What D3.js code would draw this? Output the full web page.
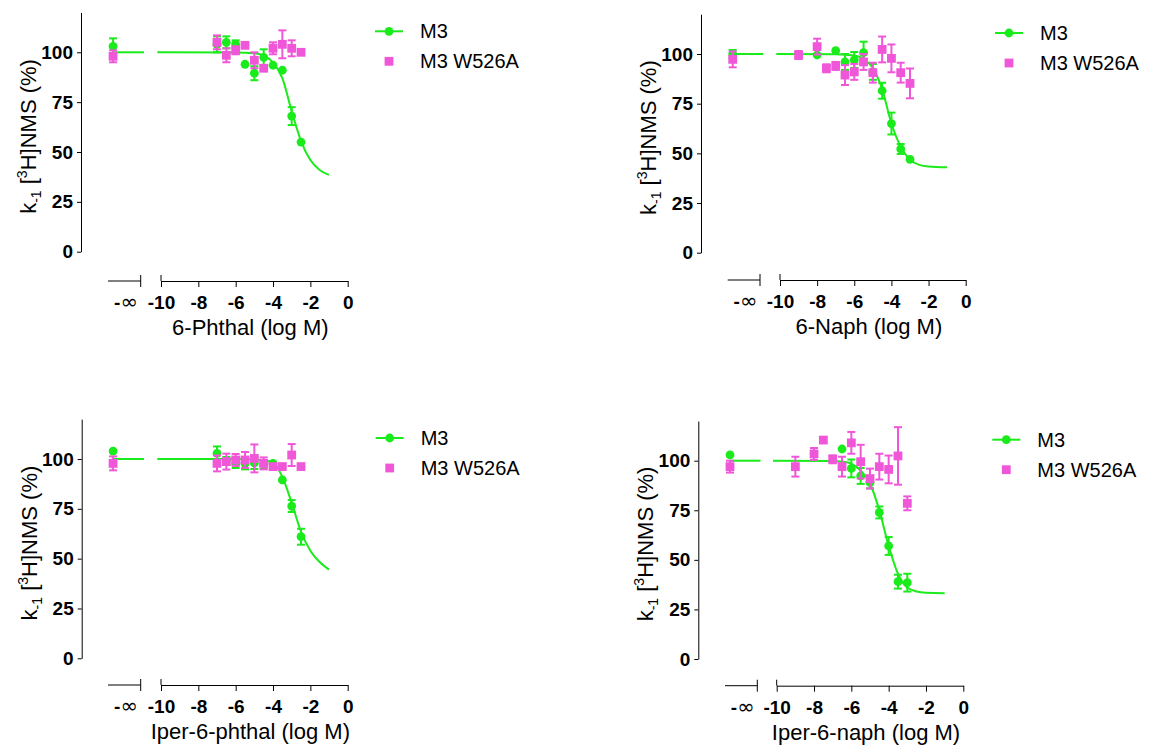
<!DOCTYPE html>
<html><head><meta charset="utf-8">
<script src="https://cdn.jsdelivr.net/npm/d3@7"></script>
<style>
body{margin:0;background:#fff}
svg{display:block}
text{font-family:"Liberation Sans",Arial,sans-serif;fill:#000}
</style>
</head><body>
<svg id="chart" width="1151" height="749"></svg>
<script>
// ---------------- DATA ----------------
const seriesNames = ["M3", "M3 W526A"];
const xTicks = [-10, -8, -6, -4, -2, 0];
const xTickLabels = ["-10", "-8", "-6", "-4", "-2", "0"];
const yTicks = [0, 25, 50, 75, 100];
const infLabel = ["-", "∞"];
const xTitles = ["6-Phthal (log M)", "6-Naph (log M)", "Iper-6-phthal (log M)", "Iper-6-naph (log M)"];

// Panel 1: 6-Phthal
const phthalM3X   = [-Infinity, -7, -6.5, -6, -5.5, -5, -4.5, -4, -3.5, -3, -2.5];
const phthalM3Y   = [103, 104, 105, 104, 94, 89.5, 97.5, 93.5, 91, 68, 55];
const phthalM3Err = [4, 4, 3, 2, 0, 3.5, 4, 0, 0, 4.5, 0];
const phthalWX    = [-Infinity, -7, -6.5, -6, -5.5, -5, -4.5, -4, -3.5, -3, -2.5];
const phthalWY    = [98, 105, 98.5, 101, 103.5, 96, 92, 102, 104, 102, 100];
const phthalWErr  = [3, 3.5, 3.5, 2, 0, 4, 0, 3, 7, 4, 0];
const phthalFitX  = [-10.2, -6, -5, -4.5, -4, -3.5, -3, -2.5, -2, -1.5, -1];
const phthalFitY  = [100, 99.9, 99.5, 98.3, 95, 87, 70.5, 55.5, 46, 41, 38.5];

// Panel 2: 6-Naph
const naphM3X   = [-Infinity, -8, -7, -6.5, -6, -5.5, -5, -4.5, -4, -3.5, -3];
const naphM3Y   = [100, 99.5, 101.7, 96, 97, 100.7, 91, 81.5, 65, 52.2, 47];
const naphM3Err = [2, 0, 0, 4, 4, 5.5, 4, 4, 5.5, 2.5, 0];
const naphWX    = [-Infinity, -9, -8, -7.5, -7, -6.5, -6, -5.5, -5, -4.5, -4, -3.5, -3];
const naphWY    = [97.3, 99.5, 103.7, 92.8, 94, 89.4, 91, 96, 90.6, 102.3, 97.8, 90.6, 85.2];
const naphWErr  = [4, 2, 4, 2, 2, 5, 4, 4, 5, 6.5, 7, 5, 7.5];
const naphFitX  = [-10.2, -7, -6, -5.5, -5, -4.5, -4, -3.5, -3, -2.5, -2, -1];
const naphFitY  = [100, 99.9, 99.2, 97.5, 93, 82.4, 65, 53.4, 46.8, 44.2, 43.4, 43];

// Panel 3: Iper-6-phthal
const iphthalM3X   = [-Infinity, -7, -6.5, -6, -5.5, -5, -4.5, -4, -3.5, -3, -2.5];
const iphthalM3Y   = [104, 102.8, 99, 97.5, 97.8, 98, 97, 97.8, 89.5, 76.4, 61];
const iphthalM3Err = [0, 3.5, 2, 2, 3, 3, 2, 0, 0, 3, 4];
const iphthalWX    = [-Infinity, -7, -6.5, -6, -5.5, -5, -4.5, -4, -3.5, -3, -2.5];
const iphthalWY    = [97.8, 97.8, 98.7, 99.5, 99.5, 100.3, 97.8, 96.2, 96.2, 102, 96.2];
const iphthalWErr  = [3.5, 4, 4, 3, 4, 7, 3, 0, 0, 5.5, 0];
const iphthalFitX  = [-10.2, -6, -5, -4.5, -4, -3.5, -3, -2.5, -2, -1.5, -1];
const iphthalFitY  = [100, 100, 99.8, 99.4, 98.3, 91, 78, 63.5, 54, 48.3, 44.5];

// Panel 4: Iper-6-naph
const inaphM3X   = [-Infinity, -6.5, -6, -5.5, -5, -4.5, -4, -3.5, -3];
const inaphM3Y   = [102.9, 105.9, 96.1, 92.3, 89, 73.9, 57, 39, 38.5];
const inaphM3Err = [0, 0, 4.5, 4, 3, 3, 4.5, 3.5, 4.5];
const inaphWX    = [-Infinity, -9, -8, -7.5, -7, -6.5, -6, -5.5, -5, -4.5, -4, -3.5, -3];
const inaphWY    = [97, 97, 103.4, 110.4, 100.7, 97, 109, 99.5, 91, 97, 95.6, 102.4, 78.5];
const inaphWErr  = [3, 5, 3, 0, 2, 5, 5.5, 8.5, 5, 6.5, 7, 14.5, 3.5];
const inaphFitX  = [-10.2, -7, -6.5, -6, -5.5, -5, -4.5, -4, -3.5, -3, -2.5, -2, -1];
const inaphFitY  = [100, 99.8, 99.5, 98.5, 95, 88.5, 75, 57, 43, 36, 34, 33.4, 33.2];

// ---------------- LAYOUT (pixels) ----------------
const layouts = [
  {ax: 81,    y0: 251.7, y100: 52.3,  xAxisY: 281,   xm10: 161,   x0: 347.7, segL: 108,   segR: 140.7},
  {ax: 701,   y0: 252.7, y100: 54,    xAxisY: 280,   xm10: 780,   x0: 965.7, segL: 727.7, segR: 760},
  {ax: 81.7,  y0: 658.3, y100: 459,   xAxisY: 685,   xm10: 161,   x0: 347.7, segL: 108,   segR: 140.7},
  {ax: 698.3, y0: 659,   y100: 460.7, xAxisY: 685.7, xm10: 776.7, x0: 963.3, segL: 725,   segR: 757.3}
];
const GREEN = "#1aeb1a", PINK = "#f057d8";
const FONT = '"Liberation Sans",Arial,sans-serif';

const panels = [
  {m3: [phthalM3X, phthalM3Y, phthalM3Err], w: [phthalWX, phthalWY, phthalWErr], fit: [phthalFitX, phthalFitY]},
  {m3: [naphM3X, naphM3Y, naphM3Err], w: [naphWX, naphWY, naphWErr], fit: [naphFitX, naphFitY]},
  {m3: [iphthalM3X, iphthalM3Y, iphthalM3Err], w: [iphthalWX, iphthalWY, iphthalWErr], fit: [iphthalFitX, iphthalFitY]},
  {m3: [inaphM3X, inaphM3Y, inaphM3Err], w: [inaphWX, inaphWY, inaphWErr], fit: [inaphFitX, inaphFitY]}
];

const svg = d3.select("#chart");

panels.forEach((p, i) => {
  const L = layouts[i];
  const g = svg.append("g");
  const yPx = (L.y0 - L.y100) / 100;
  const y = d3.scaleLinear().domain([0, 120]).range([L.y0, L.y0 - 120 * yPx]);
  const x = d3.scaleLinear().domain([-10, 0]).range([L.xm10, L.x0]);
  const xs = d3.scaleLinear().domain([0, 1]).range([L.segL, L.segR]);
  const infPos = 0.155;
  const px = v => (v === -Infinity ? xs(infPos) : x(v));

  // Y axis
  const yAxis = g.append("g").attr("transform", `translate(${L.ax},0)`)
    .call(d3.axisLeft(y).tickValues(yTicks).tickSize(4).tickSizeOuter(0).tickPadding(4));
  yAxis.attr("font-size", 19).attr("font-family", FONT);
  yAxis.select(".domain").attr("stroke", "#000").attr("stroke-width", 1);
  yAxis.selectAll(".tick line").attr("stroke", "#000").attr("stroke-width", 1);
  yAxis.selectAll(".tick text").attr("font-size", 19).attr("font-weight", "bold")
    .attr("font-family", FONT).attr("fill", "#000");

  // X axis main segment
  const xAxis = g.append("g").attr("transform", `translate(0,${L.xAxisY})`)
    .call(d3.axisBottom(x).tickValues(xTicks).tickFormat((d, k) => xTickLabels[k])
      .tickSize(6).tickSizeOuter(0).tickPadding(9));
  xAxis.attr("font-size", 19).attr("font-family", FONT);
  xAxis.select(".domain").attr("stroke", "#000").attr("stroke-width", 1);
  xAxis.selectAll(".tick line").attr("stroke", "#000").attr("stroke-width", 1);
  xAxis.selectAll(".tick text").attr("font-size", 19).attr("font-weight", "bold")
    .attr("font-family", FONT).attr("fill", "#000");
  // break tick at -10 (extends above as well)
  g.append("line").attr("x1", x(-10)).attr("x2", x(-10))
    .attr("y1", L.xAxisY - 6).attr("y2", L.xAxisY).attr("stroke", "#000");

  // X axis -inf segment
  g.append("line").attr("x1", xs(0)).attr("x2", xs(1))
    .attr("y1", L.xAxisY).attr("y2", L.xAxisY).attr("stroke", "#000");
  g.append("line").attr("x1", xs(1)).attr("x2", xs(1))
    .attr("y1", L.xAxisY - 6).attr("y2", L.xAxisY + 6).attr("stroke", "#000");
  const inf = g.append("text").attr("x", xs(0.55)).attr("y", L.xAxisY + 28)
    .attr("text-anchor", "middle").attr("font-size", 19);
  inf.append("tspan").attr("font-weight", "bold").text(infLabel[0]);
  inf.append("tspan").attr("font-family", '"DejaVu Sans",sans-serif').attr("font-size", 21).text(infLabel[1]);

  // X title
  g.append("text").attr("x", (L.xm10 + L.x0) / 2 - 4).attr("y", L.xAxisY + 54)
    .attr("text-anchor", "middle").attr("font-size", 22).text(xTitles[i]);

  // Y title
  const yt = g.append("text")
    .attr("transform", `translate(${L.ax - 45},${y(19)}) rotate(-90)`)
    .attr("text-anchor", "start").attr("font-size", 22);
  yt.append("tspan").text("k");
  yt.append("tspan").attr("font-size", 14).attr("dy", 5).text("-1");
  yt.append("tspan").attr("dy", -5).text(" [");
  yt.append("tspan").attr("font-size", 14).attr("dy", -9).text("3");
  yt.append("tspan").attr("dy", 9).text("H]NMS (%)");

  // Fit curve (main segment + -inf segment)
  const fitPts = p.fit[0].map((v, k) => [x(v), y(p.fit[1][k])]);
  g.append("path").attr("d", d3.line().curve(d3.curveMonotoneX)(fitPts))
    .attr("fill", "none").attr("stroke", GREEN).attr("stroke-width", 2);
  g.append("line").attr("x1", xs(infPos)).attr("x2", xs(1.1))
    .attr("y1", y(p.fit[1][0])).attr("y2", y(p.fit[1][0]))
    .attr("stroke", GREEN).attr("stroke-width", 2);

  // points with error bars
  const drawSeries = (arr, color, shape) => {
    const [xv, yv, ev] = arr;
    const sg = g.append("g");
    xv.forEach((v, k) => {
      const cx = px(v), cy = y(yv[k]), e = ev[k];
      if (e > 0) {
        sg.append("line").attr("x1", cx).attr("x2", cx).attr("y1", y(yv[k] - e)).attr("y2", y(yv[k] + e))
          .attr("stroke", color).attr("stroke-width", 2);
        [yv[k] - e, yv[k] + e].forEach(b => sg.append("line").attr("x1", cx - 4).attr("x2", cx + 4)
          .attr("y1", y(b)).attr("y2", y(b)).attr("stroke", color).attr("stroke-width", 2));
      }
      if (shape === "circle") sg.append("circle").attr("cx", cx).attr("cy", cy).attr("r", 4.4).attr("fill", color);
      else sg.append("rect").attr("x", cx - 4.4).attr("y", cy - 4.4).attr("width", 8.8).attr("height", 8.8).attr("fill", color);
    });
  };
  drawSeries(p.m3, GREEN, "circle");
  drawSeries(p.w, PINK, "square");

  // Legend
  const lx = L.ax + 294, ly = L.y100 - 21;
  g.append("line").attr("x1", lx).attr("x2", lx + 28).attr("y1", ly).attr("y2", ly)
    .attr("stroke", GREEN).attr("stroke-width", 2);
  g.append("circle").attr("cx", lx + 14).attr("cy", ly).attr("r", 4.4).attr("fill", GREEN);
  g.append("text").attr("x", lx + 45).attr("y", ly + 7).attr("font-size", 20).text(seriesNames[0]);
  g.append("rect").attr("x", lx + 14 - 4.4).attr("y", ly + 30 - 4.4).attr("width", 8.8).attr("height", 8.8).attr("fill", PINK);
  g.append("text").attr("x", lx + 45).attr("y", ly + 37).attr("font-size", 20).text(seriesNames[1]);
});
</script>
</body></html>
